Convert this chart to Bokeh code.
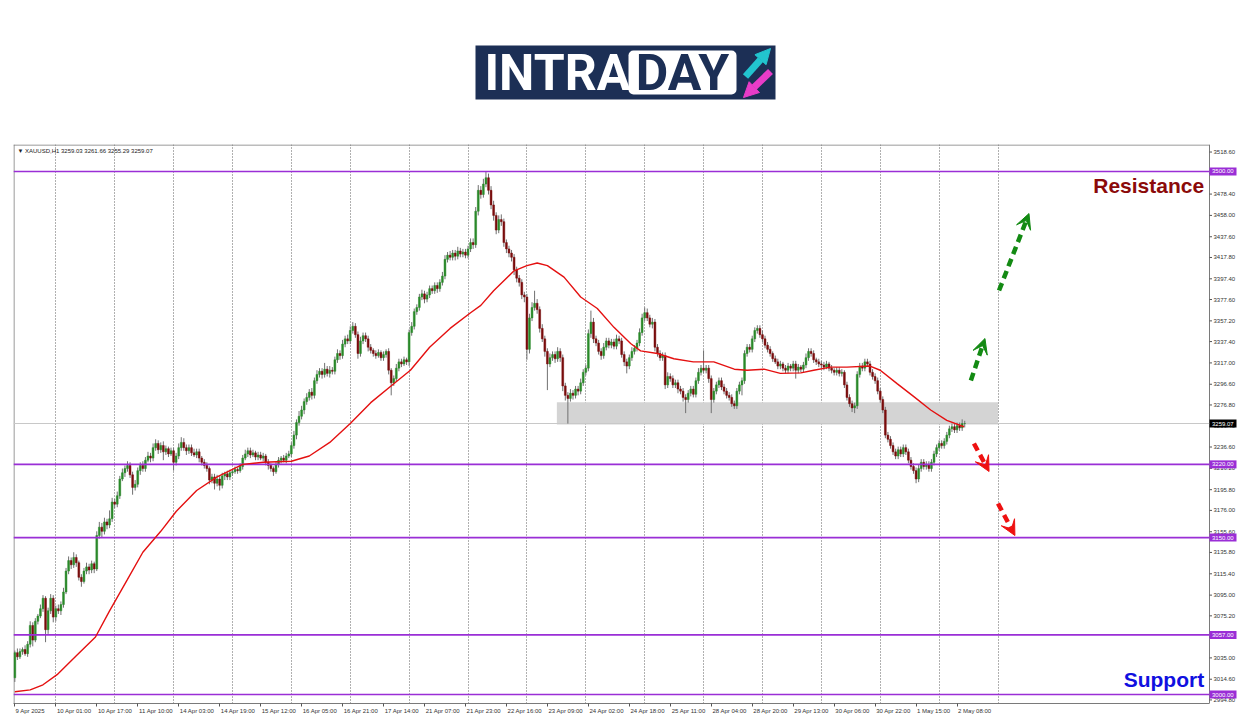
from bokeh.plotting import figure
from bokeh.models import (Range1d, LinearAxis, FixedTicker, Label, Arrow, VeeHead,
                          NormalHead, CustomJSTickFormatter)
from bokeh.layouts import column
from bokeh.embed import file_html
from bokeh.resources import INLINE
from bokeh.core.properties import value

# ---------------- data (H1 candles, bar index 0 = 9 Apr 2025 08:00) ----------------
first_open = 3016.0
close_d = [
    [3040, 3036, 3041, 3043, 3039, 3048, 3066, 3052, 3070, 3075, 3082, 3092, 3062, 3080, 3092, 3074],
    [3082, 3080, 3086, 3098, 3118, 3128, 3124, 3131, 3126, 3112, 3108, 3118, 3122, 3119, 3125, 3120, 3152, 3160, 3156, 3165, 3162, 3168, 3184],
    [3182, 3190, 3206, 3212, 3216, 3219, 3210, 3198, 3201, 3214, 3219, 3216, 3224, 3228, 3226, 3236, 3240, 3234, 3238, 3232, 3235, 3230, 3233],
    [3222, 3228, 3236, 3241, 3236, 3233, 3236, 3231, 3229, 3232, 3226, 3222, 3219, 3216, 3205, 3208, 3202, 3206, 3200, 3209, 3211, 3208, 3212],
    [3213, 3215, 3214, 3218, 3226, 3230, 3233, 3229, 3231, 3227, 3229, 3226, 3228, 3222, 3219, 3216, 3213, 3220, 3224, 3226, 3224, 3228, 3230],
    [3238, 3248, 3260, 3266, 3272, 3280, 3284, 3289, 3286, 3300, 3306, 3309, 3306, 3311, 3307, 3310, 3309, 3320, 3326, 3324, 3335, 3340, 3338],
    [3348, 3352, 3344, 3326, 3338, 3343, 3340, 3332, 3329, 3326, 3324, 3327, 3322, 3325, 3328, 3310, 3298, 3302, 3312, 3318, 3316, 3320, 3318],
    [3346, 3352, 3366, 3370, 3380, 3383, 3378, 3382, 3388, 3386, 3391, 3388, 3394, 3400, 3416, 3420, 3418, 3422, 3419, 3424, 3421, 3423, 3420],
    [3426, 3432, 3430, 3462, 3482, 3478, 3488, 3494, 3482, 3468, 3458, 3444, 3454, 3452, 3432, 3426, 3422, 3418, 3406, 3398, 3394, 3382, 3380],
    [3330, 3360, 3370, 3374, 3368, 3350, 3340, 3328, 3316, 3322, 3325, 3321, 3328, 3322, 3295, 3286, 3283, 3288, 3286, 3292, 3290, 3298, 3308],
    [3312, 3345, 3356, 3340, 3336, 3328, 3324, 3332, 3338, 3334, 3337, 3333, 3340, 3338, 3325, 3318, 3314, 3322, 3328, 3331, 3336, 3346, 3360],
    [3365, 3360, 3354, 3356, 3332, 3326, 3322, 3324, 3296, 3304, 3302, 3296, 3298, 3292, 3290, 3284, 3282, 3288, 3292, 3287, 3300, 3308, 3312],
    [3310, 3312, 3302, 3282, 3290, 3296, 3300, 3294, 3290, 3286, 3284, 3278, 3276, 3290, 3296, 3300, 3326, 3332, 3330, 3340, 3348, 3350, 3344],
    [3340, 3334, 3330, 3326, 3321, 3318, 3314, 3316, 3312, 3310, 3314, 3312, 3316, 3310, 3313, 3311, 3315, 3322, 3328, 3326, 3320, 3318, 3316],
    [3315, 3313, 3316, 3312, 3310, 3308, 3310, 3307, 3308, 3296, 3284, 3278, 3274, 3276, 3306, 3314, 3312, 3318, 3316, 3308, 3304, 3300, 3290],
    [3282, 3272, 3248, 3244, 3238, 3232, 3228, 3234, 3230, 3236, 3232, 3224, 3218, 3214, 3206, 3216, 3222, 3218, 3220, 3216, 3222, 3230, 3236],
    [3240, 3238, 3242, 3248, 3254, 3256, 3253, 3257, 3255, 3259.03, 3259.07],
]
wick_up_d = [
    [2, 4, 3, 2, 4, 3, 4, 3, 3, 2, 4, 3, 2, 3, 4, 3],
    [3, 4, 3, 4, 3, 4, 3, 5, 3, 2, 3, 3, 4, 3, 3, 2, 4, 5, 4, 4, 3, 8, 4],
    [3, 4, 3, 4, 3, 4, 3, 3, 4, 3, 3, 4, 3, 4, 3, 4, 4, 3, 3, 4, 3, 2, 3],
    [3, 3, 4, 5, 4, 3, 3, 3, 4, 3, 3, 2, 3, 3, 2, 3, 3, 4, 3, 3, 2, 3, 3],
    [2, 3, 2, 3, 3, 4, 3, 3, 3, 2, 3, 3, 3, 2, 3, 2, 2, 3, 3, 2, 3, 3, 3],
    [3, 4, 3, 5, 4, 3, 4, 3, 4, 3, 4, 3, 3, 6, 3, 4, 3, 3, 4, 3, 4, 3, 4],
    [4, 4, 3, 3, 4, 3, 3, 3, 3, 2, 3, 3, 2, 3, 2, 3, 2, 3, 4, 3, 3, 3, 2],
    [3, 4, 3, 3, 3, 4, 3, 3, 3, 3, 3, 3, 3, 4, 4, 3, 4, 3, 3, 4, 3, 3, 3],
    [3, 4, 4, 4, 5, 4, 5, 6, 4, 4, 4, 3, 4, 5, 3, 3, 3, 3, 3, 3, 3, 3, 3],
    [3, 4, 5, 12, 4, 3, 4, 3, 3, 4, 3, 3, 4, 3, 3, 3, 3, 4, 3, 3, 3, 4, 3],
    [3, 4, 11, 4, 3, 3, 3, 4, 3, 3, 3, 3, 4, 3, 3, 3, 3, 3, 4, 3, 3, 4, 4],
    [5, 4, 3, 4, 3, 3, 3, 3, 3, 4, 3, 3, 3, 3, 3, 3, 3, 3, 3, 3, 3, 4, 3],
    [17, 3, 3, 3, 3, 3, 3, 3, 3, 3, 3, 3, 3, 3, 3, 3, 3, 3, 3, 3, 3, 3, 3],
    [4, 3, 3, 3, 2, 3, 3, 3, 2, 3, 3, 2, 3, 3, 3, 2, 3, 4, 3, 3, 3, 2, 3],
    [3, 3, 3, 2, 3, 2, 3, 3, 3, 2, 3, 3, 3, 3, 3, 3, 3, 3, 3, 3, 3, 3, 3],
    [3, 3, 3, 3, 3, 3, 3, 3, 3, 3, 3, 3, 3, 3, 3, 4, 3, 3, 3, 3, 3, 3, 3],
    [3, 3, 3, 3, 3, 3, 3, 3, 3, 4, 2.59],
]
wick_dn_d = [
    [4, 3, 2, 3, 2, 3, 3, 6, 2, 3, 2, 3, 12, 4, 3, 5],
    [4, 3, 4, 3, 2, 3, 4, 3, 4, 3, 5, 2, 3, 4, 3, 4, 2, 3, 6, 3, 4, 3, 3],
    [4, 3, 3, 2, 4, 3, 3, 7, 3, 3, 4, 3, 3, 2, 4, 3, 3, 4, 3, 8, 3, 3, 2],
    [8, 3, 3, 3, 3, 4, 3, 3, 2, 3, 4, 3, 3, 3, 4, 3, 6, 3, 5, 3, 4, 3, 3],
    [3, 2, 3, 2, 3, 2, 3, 3, 2, 3, 3, 2, 3, 3, 4, 3, 4, 2, 3, 3, 2, 3, 2],
    [3, 3, 4, 3, 3, 4, 3, 3, 4, 3, 3, 3, 4, 3, 3, 4, 3, 3, 3, 4, 3, 3, 3],
    [3, 3, 3, 5, 3, 3, 3, 4, 3, 3, 3, 2, 3, 3, 3, 4, 12, 3, 3, 3, 3, 2, 3],
    [4, 3, 3, 3, 3, 3, 4, 3, 3, 3, 3, 4, 3, 3, 3, 3, 3, 3, 4, 3, 3, 3, 3],
    [3, 3, 4, 3, 4, 4, 3, 3, 4, 4, 5, 4, 3, 4, 4, 4, 4, 4, 5, 4, 4, 4, 5],
    [10, 4, 3, 3, 4, 4, 3, 5, 25, 3, 3, 4, 3, 4, 5, 5, 24, 3, 4, 3, 4, 3, 3],
    [3, 3, 4, 4, 3, 3, 4, 3, 3, 3, 3, 3, 3, 3, 3, 4, 7, 3, 3, 3, 3, 3, 3],
    [3, 3, 3, 4, 4, 3, 3, 3, 4, 3, 3, 3, 3, 4, 3, 4, 13, 3, 3, 3, 3, 3, 3],
    [3, 3, 4, 13, 3, 3, 3, 3, 3, 3, 3, 3, 3, 3, 3, 10, 3, 3, 3, 3, 3, 3, 3],
    [3, 3, 3, 3, 3, 2, 3, 3, 3, 3, 3, 3, 3, 8, 3, 3, 3, 3, 3, 3, 3, 3, 3],
    [3, 3, 2, 3, 3, 3, 3, 3, 3, 3, 3, 3, 4, 5, 3, 3, 3, 3, 3, 3, 3, 3, 3],
    [3, 3, 3, 3, 3, 3, 3, 3, 3, 3, 3, 3, 3, 3, 4, 3, 3, 3, 3, 3, 3, 3, 3],
    [3, 3, 3, 3, 3, 3, 3, 3, 3, 3, 3.74],
]

ma_idx = [0, 6, 11, 16.5, 24, 31.5, 37, 44, 50, 57, 63, 71, 79, 89, 97, 108, 115, 123, 131, 139,
          148, 154.5, 162, 170, 178, 182, 187, 195, 200, 204, 208, 214.5, 221, 227.5, 234, 240.5,
          244.4, 251, 257.4, 265, 273, 281, 286, 292.6, 299, 307, 312, 318.6, 325, 334, 338, 344.7,
          351, 357.7, 364, 370.7]
ma_val = [3002.7, 3004.4, 3009.3, 3019, 3037, 3055, 3080, 3110, 3136, 3156, 3175, 3195, 3208, 3220,
          3222, 3223, 3228, 3241, 3259, 3279, 3297, 3310, 3332, 3350, 3365, 3372, 3386, 3405, 3410,
          3412.5, 3410, 3399, 3380, 3369, 3351, 3335.5, 3328.5, 3326, 3321, 3318, 3318, 3311, 3310,
          3311, 3307, 3307.5, 3310, 3313, 3313, 3314, 3310, 3297, 3285, 3272, 3262, 3256]

x_label_idx = [0, 16, 32, 48, 64, 80, 96, 112, 128, 144, 160, 176, 192, 208, 224, 240, 256, 272,
               288, 304, 320, 336, 352, 368]
x_label_txt = ["9 Apr 2025", "10 Apr 01:00", "10 Apr 17:00", "11 Apr 10:00", "14 Apr 03:00",
               "14 Apr 19:00", "15 Apr 12:00", "16 Apr 05:00", "16 Apr 21:00", "17 Apr 14:00",
               "21 Apr 07:00", "21 Apr 23:00", "22 Apr 16:00", "23 Apr 09:00", "24 Apr 02:00",
               "24 Apr 18:00", "25 Apr 11:00", "28 Apr 04:00", "28 Apr 20:00", "29 Apr 13:00",
               "30 Apr 06:00", "30 Apr 22:00", "1 May 15:00", "2 May 08:00"]
day_start_idx = [16, 39, 62, 85, 108, 131, 154, 177, 200, 223, 246, 269, 292, 315, 338, 361, 384]

y_ticks = [3518.60, 3498.20, 3478.40, 3458.00, 3437.60, 3417.80, 3397.40, 3377.60, 3357.20, 3337.40,
           3317.00, 3296.60, 3276.80, 3256.40, 3236.60, 3216.20, 3195.80, 3176.00, 3155.60, 3135.80,
           3115.40, 3095.00, 3075.20, 3054.80, 3035.00, 3014.60, 2994.80]

levels = [3500.00, 3220.00, 3150.00, 3057.00, 3000.00]
last_price = 3259.07
zone_left, zone_right = [211.7], [384.0]
zone_low, zone_high = [3258.1], [3279.3]

green_arrows = [((373.4, 3300.2), (378.9, 3340.3)), ((384.4, 3386.2), (396.1, 3459.8))]
red_arrows = [((374.6, 3240.0), (380.5, 3213.2)), ((384.0, 3182.6), (390.6, 3152.0))]

# ---------------- build series ----------------
closes = [c for d in close_d for c in d]
w_up = [w for d in wick_up_d for w in d]
w_dn = [w for d in wick_dn_d for w in d]
assert len(closes) == len(w_up) == len(w_dn) == 372, (len(closes), len(w_up), len(w_dn))
opens = [first_open] + closes[:-1]
highs = [max(o, c) + u for o, c, u in zip(opens, closes, w_up)]
lows = [min(o, c) - d for o, c, d in zip(opens, closes, w_dn)]
idx = list(range(len(closes)))
UP_C, DN_C = "#2a8a2a", "#7a0c0c"
body_col = [UP_C if c >= o else DN_C for o, c in zip(opens, closes)]
body_top = [max(o, c) for o, c in zip(opens, closes)]
body_bot = [min(o, c) for o, c in zip(opens, closes)]

FONT = "Liberation Sans"
PURPLE = "#9a2ed6"
BORDER = "#7a7a7a"
# chart area: bars -0.52 .. 466.6 (price scale starts at X1); frame continues under the price scale
X0, X1 = -0.52, 466.6
PXB = 1196.0 / (X1 - X0)          # pixels per bar
XR = X1 + 41.0 / PXB              # right edge of the canvas in bar units
Y0, Y1 = 2991.4, 3525.8
PXP = 559.0 / (Y1 - Y0)           # pixels per price unit

# char widths (em) of Liberation Sans, used to left-align the centred axis labels
CW = {" ": 0.278, ":": 0.278, "A": 0.667, "p": 0.556, "r": 0.333, "M": 0.833, "a": 0.556, "y": 0.5}
NBSP = "\u00a0"


def left_pad(t, first=False):
    w = sum(CW.get(ch, 0.556) for ch in t)
    n = 9 if first else int(round(w / 0.278)) + 1
    return NBSP * n + t


x_label_pad = [left_pad(t, i == 0) for i, t in enumerate(x_label_txt)]

# ---------------- logo figure (its frame is aligned with the chart frame: x 13..1250) ----------------
logo = figure(width=1250, height=137, x_range=Range1d(13, 1250), y_range=Range1d(0, 137),
              toolbar_location=None, output_backend="svg", min_border=0,
              x_axis_location=None, y_axis_location=None)
logo.grid.visible = False
logo.outline_line_color = None
logo.rect(x=[625], y=[65], width=[300], height=[54], fill_color="#1c2f55", line_color=None)
logo.rect(x=[682], y=[65], width=[108], height=[44], fill_color="white", line_color=None,
          border_radius=5)
logo.add_layout(Label(x=484, y=65, text="INTRA", text_color="white", text_font="Roboto",
                      text_font_style="bold", text_font_size="50px", text_baseline="middle",
                      text_align="left"))
logo.add_layout(Label(x=682, y=65, text="DAY", text_color="#1c2f55", text_font="Roboto",
                      text_font_style="bold", text_font_size="50px", text_baseline="middle",
                      text_align="center"))
logo.add_layout(Arrow(end=NormalHead(size=15, fill_color="#22c4cf", line_color="#22c4cf"),
                      x_start=745, y_start=61, x_end=770, y_end=89,
                      line_color="#22c4cf", line_width=7))
logo.add_layout(Arrow(end=NormalHead(size=15, fill_color="#e83cc8", line_color="#e83cc8"),
                      x_start=770, y_start=66, x_end=743, y_end=40,
                      line_color="#e83cc8", line_width=7))

# ---------------- main chart ----------------
p = figure(width=1250, height=579, x_range=Range1d(X0, XR), y_range=Range1d(Y0, Y1),
           toolbar_location=None, output_backend="svg", x_axis_location=None,
           y_axis_location=None, min_border_left=13, min_border_right=0,
           min_border_top=7, min_border_bottom=13)
p.outline_line_color = None

xax = LinearAxis(ticker=FixedTicker(ticks=x_label_idx), bounds=(X0, X1),
                 formatter=CustomJSTickFormatter(args=dict(labels=x_label_pad),
                                                 code="return labels[index] || '';"),
                 major_tick_out=3, major_tick_in=0, minor_tick_out=0, minor_tick_in=0,
                 major_label_standoff=1, major_label_text_font_size="6px",
                 major_label_text_font=FONT, major_label_text_color="#333333",
                 axis_line_color=BORDER, major_tick_line_color="#555555")
p.add_layout(xax, "below")

p.xgrid.ticker = FixedTicker(ticks=day_start_idx)
p.xgrid.grid_line_color = "#606060"
p.xgrid.grid_line_dash = "1 2"
p.ygrid.visible = False

# chart border (top, left) and price-scale line
p.segment(x0=[X0], y0=[Y1 - 0.5 / PXP], x1=[X1], y1=[Y1 - 0.5 / PXP], line_color=BORDER, line_width=1)
p.segment(x0=[X0 + 0.5 / PXB], y0=[Y0], x1=[X0 + 0.5 / PXB], y1=[Y1], line_color=BORDER, line_width=1)
p.segment(x0=[X1], y0=[Y0], x1=[X1], y1=[Y1], line_color=BORDER, line_width=1)

# zone and last-price line
p.quad(left=zone_left, right=zone_right, bottom=zone_low, top=zone_high,
       fill_color="#d4d4d4", line_color=None)
p.segment(x0=[X0], y0=[last_price], x1=[X1], y1=[last_price], line_color="#c8c8c8", line_width=1)

# candles
p.segment(x0=idx, y0=lows, x1=idx, y1=highs, line_color="#707070", line_width=1)
p.vbar(x=idx, bottom=body_bot, top=body_top, width=0.72, fill_color=body_col,
       line_color=body_col, line_width=0.5)

# horizontal levels
p.segment(x0=[X0] * len(levels), y0=levels, x1=[X1] * len(levels), y1=levels,
          line_color=PURPLE, line_width=1.6)

# moving average
p.line(ma_idx, ma_val, line_color="#e41010", line_width=1.4)

# price scale (ticks + labels) drawn on the right of the chart area
p.segment(x0=[X1] * len(y_ticks), y0=y_ticks, x1=[X1 + 2.5 / PXB] * len(y_ticks), y1=y_ticks,
          line_color="#555555", line_width=1)
p.text(x=[X1 + 4.0 / PXB] * len(y_ticks), y=y_ticks, text=[f"{v:.2f}" for v in y_ticks],
       text_font=value(FONT), text_font_size="6px", text_color="#333333",
       text_baseline="middle", text_align="left")

# price boxes
box_y = levels + [last_price]
box_c = [PURPLE] * len(levels) + ["black"]
p.rect(x=[X1 + 13.5 / PXB] * len(box_y), y=box_y, width=27, width_units="screen",
       height=8, height_units="screen", fill_color=box_c, line_color=None)
p.text(x=[X1 + 2.5 / PXB] * len(box_y), y=box_y, text=[f"{v:.2f}" for v in box_y],
       text_font=value(FONT), text_font_size="6px", text_color="white",
       text_baseline="middle", text_align="left")

# arrows
for (s, e) in green_arrows:
    p.add_layout(Arrow(end=VeeHead(size=15, fill_color="#138a13", line_color="#138a13", line_width=1),
                       x_start=s[0], y_start=s[1], x_end=e[0], y_end=e[1],
                       line_color="#138a13", line_width=4.5, line_dash="8 5"))
for (s, e) in red_arrows:
    p.add_layout(Arrow(end=VeeHead(size=15, fill_color="#ee1111", line_color="#ee1111", line_width=1),
                       x_start=s[0], y_start=s[1], x_end=e[0], y_end=e[1],
                       line_color="#ee1111", line_width=4.5, line_dash="8 5"))

# texts
p.add_layout(Label(x=1.0, y=Y1, y_offset=-3, text="\u25BC XAUUSD,H1  3259.03 3261.66 3255.29 3259.07",
                   text_font=FONT, text_font_size="6px", text_color="#222222",
                   text_baseline="top", text_align="left"))
p.add_layout(Label(x=464.5, y=3486.6, text="Resistance", text_font=FONT, text_font_style="bold",
                   text_font_size="21px", text_color="#8b0a0a", text_baseline="middle",
                   text_align="right"))
p.add_layout(Label(x=464.5, y=3014.3, text="Support", text_font=FONT, text_font_style="bold",
                   text_font_size="21px", text_color="#1010e0", text_baseline="middle",
                   text_align="right"))

layout = column(logo, p, spacing=0)
open("out.html", "w").write(file_html(layout, INLINE))
